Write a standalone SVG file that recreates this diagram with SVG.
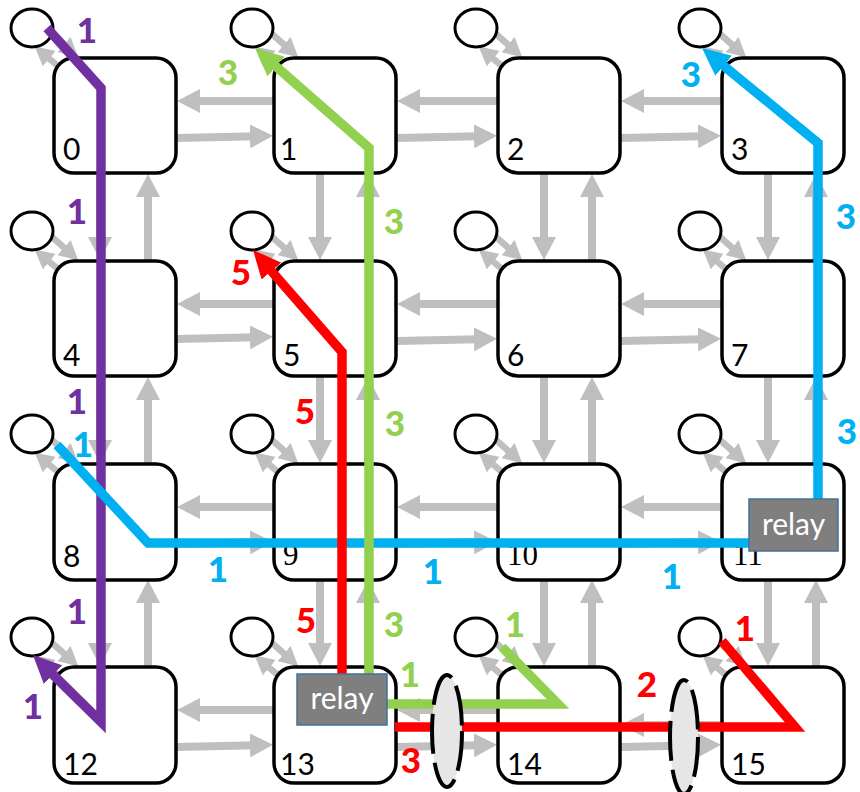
<svg xmlns="http://www.w3.org/2000/svg" width="860" height="792" viewBox="0 0 860 792">
  <style>
    .link { stroke: #BFBFBF; stroke-width: 8; fill: none; marker-end: url(#ah); }
    .tap { stroke: #BFBFBF; stroke-width: 6.5; fill: none; marker-end: url(#ahs); }
    .box { fill: #FFFFFF; stroke: #000000; stroke-width: 3.5; }
    .core { fill: #FFFFFF; stroke: #000000; stroke-width: 3; }
    .id { font-family: Lato, "Liberation Sans", sans-serif; font-size: 30px; fill: #000000; }
    .ids { font-family: "Liberation Serif", serif; font-size: 31px; fill: #000000; }
    .route { fill: none; stroke-width: 9.5; stroke-linejoin: miter; }
    .relay rect { fill: #7F7F7F; stroke: #41719C; stroke-width: 1.5; }
    .relay text { font-family: Lato, "Liberation Sans", sans-serif; font-size: 30px; fill: #FFFFFF; text-anchor: middle; }
    .cut { fill: #E6E6E6; stroke: #000000; stroke-width: 4; stroke-dasharray: 40 9; }
    .lbl { font-family: Lato, "Liberation Sans", sans-serif; font-size: 35px; font-weight: 900; text-anchor: middle; }
  </style>
  <defs>
    <marker id="ah" viewBox="0 0 23 24" markerWidth="23" markerHeight="24" refX="15" refY="12" orient="auto" markerUnits="userSpaceOnUse">
      <path d="M0,0 L23,12 L0,24 z" fill="#BFBFBF"/>
    </marker>
    <marker id="ahs" viewBox="0 0 19 20" markerWidth="19" markerHeight="20" refX="12" refY="10" orient="auto" markerUnits="userSpaceOnUse">
      <path d="M0,0 L19,10 L0,20 z" fill="#BFBFBF"/>
    </marker>
    <marker id="ah-purple" viewBox="0 0 28 26" markerWidth="28" markerHeight="26" refX="18" refY="13" orient="auto" markerUnits="userSpaceOnUse">
      <path d="M0,0 L28,13 L0,26 z" fill="#7030A0"/>
    </marker>
    <marker id="ah-green" viewBox="0 0 28 26" markerWidth="28" markerHeight="26" refX="18" refY="13" orient="auto" markerUnits="userSpaceOnUse">
      <path d="M0,0 L28,13 L0,26 z" fill="#92D050"/>
    </marker>
    <marker id="ah-red" viewBox="0 0 28 26" markerWidth="28" markerHeight="26" refX="18" refY="13" orient="auto" markerUnits="userSpaceOnUse">
      <path d="M0,0 L28,13 L0,26 z" fill="#FF0000"/>
    </marker>
    <marker id="ah-blue" viewBox="0 0 28 26" markerWidth="28" markerHeight="26" refX="18" refY="13" orient="auto" markerUnits="userSpaceOnUse">
      <path d="M0,0 L28,13 L0,26 z" fill="#00B0F0"/>
    </marker>
  </defs>

  <rect width="860" height="792" fill="#FFFFFF"/>

  <!-- mesh links between routers -->
  <g id="links">
    <!-- row 0 -->
    <line class="link" x1="274" y1="101" x2="185" y2="101"/>
    <line class="link" x1="177" y1="138" x2="265" y2="136"/>
    <line class="link" x1="498" y1="101" x2="405" y2="101"/>
    <line class="link" x1="397" y1="138" x2="489" y2="136"/>
    <line class="link" x1="722" y1="101" x2="629" y2="101"/>
    <line class="link" x1="621" y1="138" x2="713" y2="136"/>
    <!-- row 1 -->
    <line class="link" x1="274" y1="304" x2="185" y2="304"/>
    <line class="link" x1="177" y1="339" x2="265" y2="337"/>
    <line class="link" x1="498" y1="304" x2="405" y2="304"/>
    <line class="link" x1="397" y1="341" x2="489" y2="339"/>
    <line class="link" x1="722" y1="304" x2="629" y2="304"/>
    <line class="link" x1="621" y1="341" x2="713" y2="339"/>
    <!-- row 2 -->
    <line class="link" x1="274" y1="507" x2="185" y2="507"/>
    <line class="link" x1="177" y1="544" x2="265" y2="542"/>
    <line class="link" x1="498" y1="507" x2="405" y2="507"/>
    <line class="link" x1="397" y1="544" x2="489" y2="542"/>
    <line class="link" x1="722" y1="507" x2="629" y2="507"/>
    <line class="link" x1="621" y1="544" x2="713" y2="542"/>
    <!-- row 3 -->
    <line class="link" x1="274" y1="710" x2="185" y2="710"/>
    <line class="link" x1="177" y1="747" x2="265" y2="745"/>
    <line class="link" x1="498" y1="710" x2="405" y2="710"/>
    <line class="link" x1="397" y1="747" x2="489" y2="745"/>
    <line class="link" x1="722" y1="725" x2="629" y2="725"/>
    <line class="link" x1="621" y1="747" x2="713" y2="745"/>
    <!-- columns, rows 0-1 -->
    <line class="link" x1="100" y1="174" x2="100" y2="252"/>
    <line class="link" x1="148" y1="261" x2="148" y2="182"/>
    <line class="link" x1="320" y1="174" x2="320" y2="252"/>
    <line class="link" x1="368" y1="261" x2="368" y2="182"/>
    <line class="link" x1="544" y1="174" x2="544" y2="252"/>
    <line class="link" x1="592" y1="261" x2="592" y2="182"/>
    <line class="link" x1="768" y1="174" x2="768" y2="252"/>
    <line class="link" x1="816" y1="261" x2="816" y2="182"/>
    <!-- columns, rows 1-2 -->
    <line class="link" x1="100" y1="377" x2="100" y2="455"/>
    <line class="link" x1="148" y1="464" x2="148" y2="385"/>
    <line class="link" x1="320" y1="377" x2="320" y2="455"/>
    <line class="link" x1="368" y1="464" x2="368" y2="385"/>
    <line class="link" x1="544" y1="377" x2="544" y2="455"/>
    <line class="link" x1="592" y1="464" x2="592" y2="385"/>
    <line class="link" x1="768" y1="377" x2="768" y2="455"/>
    <line class="link" x1="816" y1="464" x2="816" y2="385"/>
    <!-- columns, rows 2-3 -->
    <line class="link" x1="100" y1="580" x2="100" y2="658"/>
    <line class="link" x1="148" y1="667" x2="148" y2="588"/>
    <line class="link" x1="320" y1="580" x2="320" y2="658"/>
    <line class="link" x1="368" y1="667" x2="368" y2="588"/>
    <line class="link" x1="544" y1="580" x2="544" y2="658"/>
    <line class="link" x1="592" y1="667" x2="592" y2="588"/>
    <line class="link" x1="768" y1="580" x2="768" y2="658"/>
    <line class="link" x1="816" y1="667" x2="816" y2="588"/>
  </g>

  <!-- routers with their attached cores -->
  <g id="n0" transform="translate(54,58)">
    <line class="tap" x1="4" y1="8" x2="-14" y2="-7"/>
    <line class="tap" x1="-2" y1="-24" x2="19" y2="-5.5"/>
    <rect class="box" width="122" height="115" rx="20"/>
    <ellipse class="core" cx="-22" cy="-30" rx="21" ry="19"/>
    <text class="id" x="9" y="102">0</text>
  </g>
  <g id="n1" transform="translate(274,58)">
    <line class="tap" x1="4" y1="8" x2="-14" y2="-7"/>
    <line class="tap" x1="-2" y1="-24" x2="19" y2="-5.5"/>
    <rect class="box" width="122" height="115" rx="20"/>
    <ellipse class="core" cx="-22" cy="-30" rx="21" ry="19"/>
    <text class="id" x="6" y="102">1</text>
  </g>
  <g id="n2" transform="translate(498,58)">
    <line class="tap" x1="4" y1="8" x2="-14" y2="-7"/>
    <line class="tap" x1="-2" y1="-24" x2="19" y2="-5.5"/>
    <rect class="box" width="122" height="115" rx="20"/>
    <ellipse class="core" cx="-22" cy="-30" rx="21" ry="19"/>
    <text class="id" x="9" y="102">2</text>
  </g>
  <g id="n3" transform="translate(722,58)">
    <line class="tap" x1="4" y1="8" x2="-14" y2="-7"/>
    <line class="tap" x1="-2" y1="-24" x2="19" y2="-5.5"/>
    <rect class="box" width="122" height="115" rx="20"/>
    <ellipse class="core" cx="-22" cy="-30" rx="21" ry="19"/>
    <text class="id" x="9" y="102">3</text>
  </g>
  <g id="n4" transform="translate(54,261)">
    <line class="tap" x1="4" y1="8" x2="-14" y2="-7"/>
    <line class="tap" x1="-2" y1="-24" x2="19" y2="-5.5"/>
    <rect class="box" width="122" height="115" rx="20"/>
    <ellipse class="core" cx="-22" cy="-30" rx="21" ry="19"/>
    <text class="id" x="9" y="105">4</text>
  </g>
  <g id="n5" transform="translate(274,261)">
    <line class="tap" x1="4" y1="8" x2="-14" y2="-7"/>
    <line class="tap" x1="-2" y1="-24" x2="19" y2="-5.5"/>
    <rect class="box" width="122" height="115" rx="20"/>
    <ellipse class="core" cx="-22" cy="-30" rx="21" ry="19"/>
    <text class="id" x="9" y="105">5</text>
  </g>
  <g id="n6" transform="translate(498,261)">
    <line class="tap" x1="4" y1="8" x2="-14" y2="-7"/>
    <line class="tap" x1="-2" y1="-24" x2="19" y2="-5.5"/>
    <rect class="box" width="122" height="115" rx="20"/>
    <ellipse class="core" cx="-22" cy="-30" rx="21" ry="19"/>
    <text class="id" x="9" y="105">6</text>
  </g>
  <g id="n7" transform="translate(722,261)">
    <line class="tap" x1="4" y1="8" x2="-14" y2="-7"/>
    <line class="tap" x1="-2" y1="-24" x2="19" y2="-5.5"/>
    <rect class="box" width="122" height="115" rx="20"/>
    <ellipse class="core" cx="-22" cy="-30" rx="21" ry="19"/>
    <text class="id" x="9" y="105">7</text>
  </g>
  <g id="n8" transform="translate(54,464)">
    <line class="tap" x1="4" y1="8" x2="-14" y2="-7"/>
    <line class="tap" x1="-2" y1="-24" x2="19" y2="-5.5"/>
    <rect class="box" width="122" height="116" rx="20"/>
    <ellipse class="core" cx="-22" cy="-30" rx="21" ry="19"/>
    <text class="id" x="9" y="103">8</text>
  </g>
  <g id="n9" transform="translate(274,464)">
    <line class="tap" x1="4" y1="8" x2="-14" y2="-7"/>
    <line class="tap" x1="-2" y1="-24" x2="19" y2="-5.5"/>
    <rect class="box" width="122" height="116" rx="20"/>
    <ellipse class="core" cx="-22" cy="-30" rx="21" ry="19"/>
    <text class="ids" x="9" y="101">9</text>
  </g>
  <g id="n10" transform="translate(498,464)">
    <line class="tap" x1="4" y1="8" x2="-14" y2="-7"/>
    <line class="tap" x1="-2" y1="-24" x2="19" y2="-5.5"/>
    <rect class="box" width="122" height="116" rx="20"/>
    <ellipse class="core" cx="-22" cy="-30" rx="21" ry="19"/>
    <text class="ids" x="9" y="101">10</text>
  </g>
  <g id="n11" transform="translate(722,464)">
    <line class="tap" x1="4" y1="8" x2="-14" y2="-7"/>
    <line class="tap" x1="-2" y1="-24" x2="19" y2="-5.5"/>
    <rect class="box" width="122" height="116" rx="20"/>
    <ellipse class="core" cx="-22" cy="-30" rx="21" ry="19"/>
    <text class="ids" x="11" y="101">11</text>
  </g>
  <g id="n12" transform="translate(54,667)">
    <line class="tap" x1="4" y1="8" x2="-14" y2="-7"/>
    <line class="tap" x1="-2" y1="-24" x2="19" y2="-5.5"/>
    <rect class="box" width="122" height="116" rx="20"/>
    <ellipse class="core" cx="-22" cy="-30" rx="21" ry="19"/>
    <text class="id" x="9" y="108">12</text>
  </g>
  <g id="n13" transform="translate(274,667)">
    <line class="tap" x1="4" y1="8" x2="-14" y2="-7"/>
    <line class="tap" x1="-2" y1="-24" x2="19" y2="-5.5"/>
    <rect class="box" width="122" height="116" rx="20"/>
    <ellipse class="core" cx="-22" cy="-30" rx="21" ry="19"/>
    <text class="id" x="6" y="108">13</text>
  </g>
  <g id="n14" transform="translate(498,667)">
    <line class="tap" x1="4" y1="8" x2="-14" y2="-7"/>
    <line class="tap" x1="-2" y1="-24" x2="19" y2="-5.5"/>
    <rect class="box" width="122" height="116" rx="20"/>
    <ellipse class="core" cx="-22" cy="-30" rx="21" ry="19"/>
    <text class="id" x="9" y="108">14</text>
  </g>
  <g id="n15" transform="translate(722,667)">
    <line class="tap" x1="4" y1="8" x2="-14" y2="-7"/>
    <line class="tap" x1="-2" y1="-24" x2="19" y2="-5.5"/>
    <rect class="box" width="122" height="116" rx="20"/>
    <ellipse class="core" cx="-22" cy="-30" rx="21" ry="19"/>
    <text class="id" x="9" y="108">15</text>
  </g>

  <!-- routed flows -->
  <g id="routes">
    <polyline class="route" stroke="#7030A0" points="47,28 101,88 101,722 40.1,662" marker-end="url(#ah-purple)"/>
    <polyline class="route" stroke="#00B0F0" points="57,445 148,543 749,543"/>
    <polyline class="route" stroke="#00B0F0" points="818,499 818,143 709.7,54.3" marker-end="url(#ah-blue)"/>
    <polyline class="route" stroke="#FF0000" points="342,674 342,352 259.6,257.5" marker-end="url(#ah-red)"/>
    <polyline class="route" stroke="#FF0000" points="395,727 795,727 722,641"/>
    <polyline class="route" stroke="#92D050" points="369,674 369,148 262.5,54.6" marker-end="url(#ah-green)"/>
    <polyline class="route" stroke="#92D050" points="387,704 558,704 502,647"/>
  </g>

  <!-- relay points -->
  <g id="relay13" class="relay">
    <rect x="297" y="674" width="90" height="51"/>
    <text x="342" y="709">relay</text>
  </g>
  <g id="relay11" class="relay">
    <rect x="749" y="499" width="89" height="52"/>
    <text x="793.5" y="535">relay</text>
  </g>

  <!-- link cuts -->
  <g id="cuts">
    <ellipse class="cut" cx="447" cy="731" rx="15" ry="56"/>
    <ellipse class="cut" cx="684" cy="737" rx="14" ry="57"/>
  </g>

  <!-- hop counts -->
  <g id="counts" class="lbl">
    <g fill="#7030A0">
      <text x="87" y="43">1</text>
      <text x="77" y="224">1</text>
      <text x="77" y="414">1</text>
      <text x="77" y="624">1</text>
      <text x="33" y="719">1</text>
    </g>
    <g fill="#00B0F0">
      <text x="83" y="457">1</text>
      <text x="218" y="582">1</text>
      <text x="433" y="584">1</text>
      <text x="672" y="589">1</text>
      <text x="691" y="87">3</text>
      <text x="846" y="229">3</text>
      <text x="847" y="444">3</text>
    </g>
    <g fill="#92D050">
      <text x="228" y="85">3</text>
      <text x="394" y="234">3</text>
      <text x="395" y="436">3</text>
      <text x="394" y="637">3</text>
      <text x="410" y="687">1</text>
      <text x="515" y="637">1</text>
    </g>
    <g fill="#FF0000">
      <text x="241" y="285">5</text>
      <text x="305" y="424">5</text>
      <text x="306" y="633">5</text>
      <text x="411" y="773">3</text>
      <text x="647" y="697">2</text>
      <text x="745" y="641">1</text>
    </g>
  </g>
</svg>
